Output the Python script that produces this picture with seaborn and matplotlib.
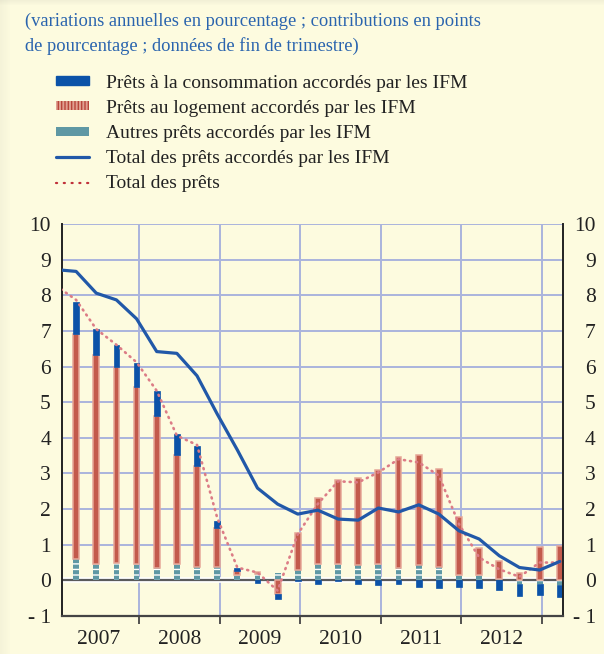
import numpy as np
import pandas as pd
import matplotlib
matplotlib.use("Agg")
import matplotlib.pyplot as plt
import matplotlib.ticker as ticker
import seaborn as sns
from matplotlib.patches import Patch, Rectangle
from matplotlib.lines import Line2D

# end-of-quarter data; lines start one quarter earlier (clipped at the left edge)
line_quarters = ["2006Q4", "2007Q1", "2007Q2", "2007Q3", "2007Q4", "2008Q1", "2008Q2",
                 "2008Q3", "2008Q4", "2009Q1", "2009Q2", "2009Q3", "2009Q4", "2010Q1",
                 "2010Q2", "2010Q3", "2010Q4", "2011Q1", "2011Q2", "2011Q3", "2011Q4",
                 "2012Q1", "2012Q2", "2012Q3", "2012Q4", "2013Q1"]
bar_quarters = line_quarters[1:]

consumer = [0.90, 0.71, 0.63, 0.67, 0.68, 0.59, 0.56, 0.19, 0.10, -0.06, -0.14, -0.02, -0.11,
            -0.03, -0.11, -0.14, -0.11, -0.18, -0.22, -0.18, -0.22, -0.27, -0.34, -0.32, -0.35]
housing = [6.31, 5.86, 5.48, 4.97, 4.28, 3.07, 2.84, 1.10, 0.12, 0.04, -0.38, 1.05, 1.86,
           2.36, 2.44, 2.64, 3.13, 3.09, 2.74, 1.63, 0.75, 0.50, 0.22, 0.94, 0.97]
other = [0.59, 0.47, 0.50, 0.45, 0.34, 0.45, 0.38, 0.38, 0.14, 0.19, 0.22, 0.29, 0.45,
         0.45, 0.43, 0.45, 0.34, 0.43, 0.38, 0.15, 0.15, 0.05, -0.11, -0.09, -0.13]
total_ifm = [8.72, 8.67, 8.06, 7.87, 7.34, 6.42, 6.37, 5.74, 4.67, 3.66, 2.59, 2.14, 1.86,
             1.97, 1.72, 1.69, 2.03, 1.92, 2.12, 1.86, 1.39, 1.16, 0.69, 0.36, 0.29, 0.53]
total_loans = [8.27, 7.87, 7.05, 6.61, 6.12, 5.32, 4.06, 3.80, 1.76, 0.36, 0.22, -0.29, 1.30,
               2.15, 2.78, 2.75, 3.03, 3.40, 3.31, 2.94, 1.58, 0.64, 0.31, 0.10, 0.50, 0.50]
years = [2007, 2008, 2009, 2010, 2011, 2012]
y_ticks = list(range(-1, 11))

labels = ["Prêts à la consommation accordés par les IFM",
          "Prêts au logement accordés par les IFM",
          "Autres prêts accordés par les IFM",
          "Total des prêts accordés par les IFM",
          "Total des prêts"]
subtitle = ("(variations annuelles en pourcentage ; contributions en points\n"
            "de pourcentage ; données de fin de trimestre)")

BG = "#fdfbdf"
BLUE = "#0b52a8"
LINE_BLUE = "#2158a8"
TEAL = "#5f98a4"
GRID = "#aab4dc"
DOTS = "#dc7c86"


def to_year(q):
    p = pd.Period(q, freq="Q")
    return p.year + p.quarter / 4 - 0.03


def ylab(v):
    return "- 1" if v < 0 else f"{int(v)}"


sns.set_style("white", rc={"axes.facecolor": BG, "figure.facecolor": BG})
plt.rcParams["font.family"] = ["Liberation Serif", "DejaVu Serif"]

fig = plt.figure(figsize=(6.04, 6.54), dpi=100)
ax = fig.add_axes([62 / 604, 1 - 616 / 654, (563 - 62) / 604, (616 - 224) / 654])

xb = np.array([to_year(q) for q in bar_quarters])
xl = np.array([to_year(q) for q in line_quarters])

# zero line under the bars
ax.axhline(0, color="white", lw=4, zorder=1)
ax.axhline(0, color="#5a5a5a", lw=1.6, zorder=1.1)

w = 0.072
pos_base = np.zeros(len(xb))
neg_base = np.zeros(len(xb))
styles = [
    (other, dict(color=TEAL, edgecolor="white", linewidth=0, hatch="---")),
    (housing, dict(color="#c35a4c", edgecolor="#e6a798", linewidth=1.1)),
    (consumer, dict(color=BLUE, edgecolor=BLUE, linewidth=0.5)),
]
for vals, st in styles:
    v = np.array(vals)
    bottom = np.where(v >= 0, pos_base, neg_base)
    ax.bar(xb, v, bottom=bottom, width=w, zorder=2, **st)
    pos_base += np.clip(v, 0, None)
    neg_base += np.clip(v, None, 0)

sns.lineplot(x=xl, y=total_loans, ax=ax, color=DOTS, lw=1.9,
             linestyle=(0, (0.4, 1.9)), dash_capstyle="round", zorder=3)
sns.lineplot(x=xl, y=total_ifm, ax=ax, color=LINE_BLUE, lw=2.3, zorder=4)

ax.set_xlim(2007.045, 2013.26)
ax.set_ylim(-1, 10)

ax.xaxis.set_major_locator(ticker.FixedLocator([y + 1 for y in years]))
ax.xaxis.set_minor_locator(ticker.FixedLocator([y + 0.5 for y in years]))
ax.xaxis.set_major_formatter(ticker.NullFormatter())
ax.xaxis.set_minor_formatter(ticker.FixedFormatter([str(y) for y in years]))
ax.tick_params(axis="x", which="major", direction="out", length=6, width=1.3,
               color="#444444", bottom=True)
ax.tick_params(axis="x", which="minor", length=0, pad=10, labelsize=15.5,
               labelcolor="#222222")

ax.set_yticks(y_ticks, [ylab(v) for v in y_ticks])
ax.tick_params(axis="y", length=0, labelsize=15.5, labelcolor="#222222", pad=8)

# right-hand labels, right aligned
ax2 = ax.twinx()
ax2.set_ylim(-1, 10)
ax2.set_yticks(y_ticks, [ylab(v) for v in y_ticks])
ax2.tick_params(axis="y", length=0, labelsize=15.5, labelcolor="#222222", pad=23.5)
plt.setp(ax2.get_yticklabels(), ha="right")
ax2.grid(False)
for s in ax2.spines.values():
    s.set_visible(False)

ax.grid(True, axis="both", which="major", color=GRID, lw=1.4, zorder=0)
ax.set_axisbelow(True)
for s in ["left", "right"]:
    ax.spines[s].set_color("#222222")
    ax.spines[s].set_linewidth(1.4)
ax.spines["bottom"].set_color("#444444")
ax.spines["bottom"].set_linewidth(1.6)
ax.spines["top"].set_visible(False)

# subtitle
fig.text(25 / 604, 1 - 13 / 654, subtitle, color="#2a64ae", fontsize=13.3,
         va="top", ha="left", linespacing=1.48)

# legend
handles = [
    Patch(facecolor=BLUE, edgecolor=BLUE),
    Patch(facecolor="#e0a090", edgecolor="#b8453a", hatch="|||||", linewidth=0),
    Patch(facecolor=TEAL, edgecolor="white", hatch="-", linewidth=0),
    Line2D([], [], color=LINE_BLUE, lw=2.3),
    Line2D([], [], color="#c0303a", lw=1.6, linestyle=(0, (0.5, 3.0)),
           dash_capstyle="round"),
]
fig.legend(handles, labels, loc="upper left", bbox_to_anchor=(46 / 604, 1 - 65 / 654),
           frameon=False, fontsize=14, handlelength=1.7, handleheight=0.33,
           handletextpad=0.9, labelspacing=0.42, borderpad=0, labelcolor="#222222")

# soft shadow on the left and top edges
for i in range(10):
    a = 0.06 * (10 - i) / 10
    fig.add_artist(Rectangle((i / 604, 0), 1 / 604, 1, transform=fig.transFigure,
                             color="#777777", alpha=a, lw=0))
for i in range(5):
    a = 0.08 * (5 - i) / 5
    fig.add_artist(Rectangle((0, 1 - (i + 1) / 654), 1, 1 / 654, transform=fig.transFigure,
                             color="#777777", alpha=a, lw=0))

fig.savefig("out.png", dpi=100, facecolor=BG)
